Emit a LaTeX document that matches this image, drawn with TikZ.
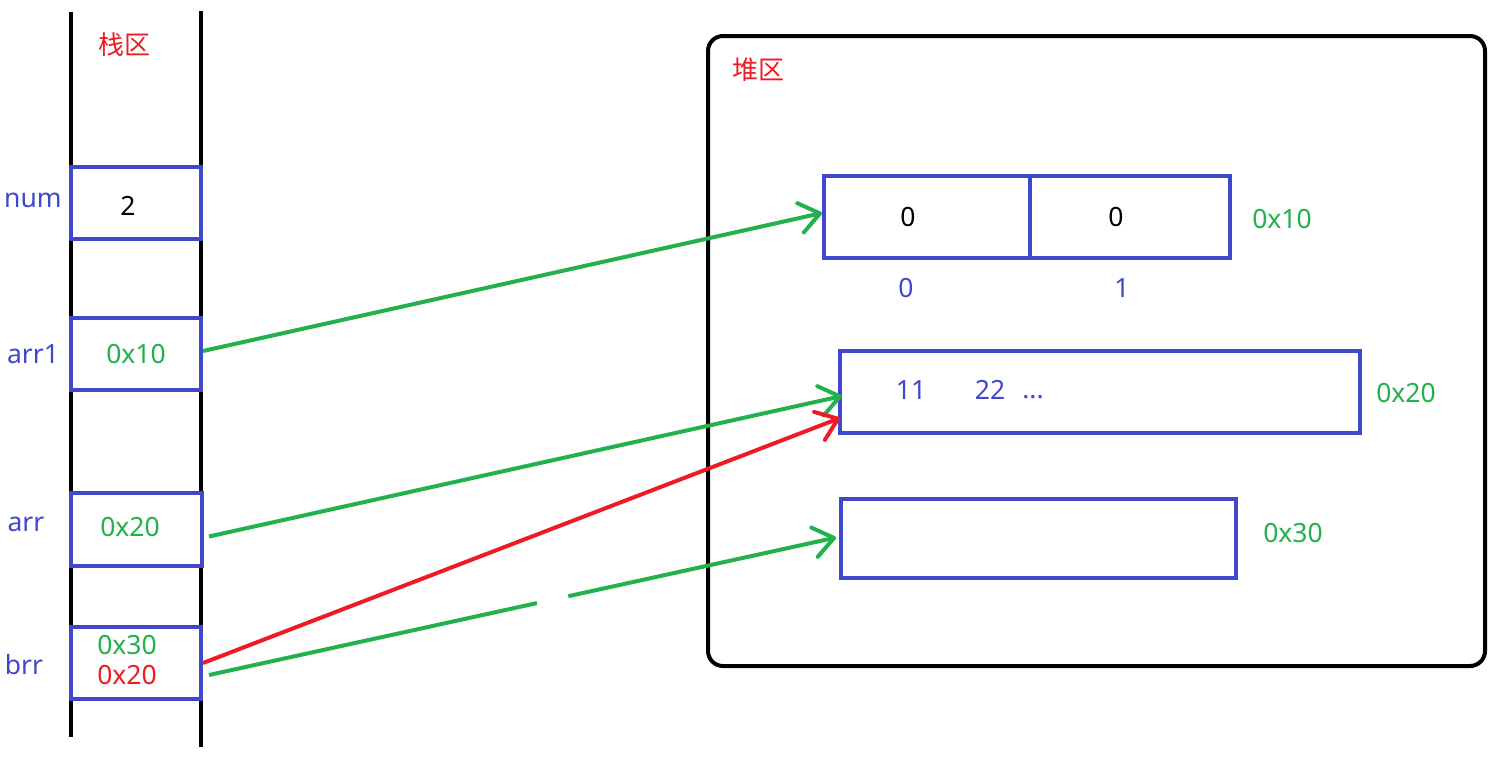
\documentclass[tikz,border=0pt]{standalone}
\usepackage{fontspec}
\setmainfont{Noto Sans}
\newfontfamily\cjk{Noto Sans CJK SC}
\usetikzlibrary{arrows.meta,calc}
\definecolor{pblue}{RGB}{63,72,204}
\definecolor{pgreen}{RGB}{34,177,76}
\definecolor{pred}{RGB}{237,28,36}
\tikzset{
  txt/.style={inner sep=0pt, font=\fontsize{26.5}{30}\selectfont},
  cjktxt/.style={inner sep=0pt, font=\cjk\fontsize{26}{30}\selectfont, text=pred},
  cell/.style={draw=pblue, line width=4pt, inner sep=0pt, outer sep=0pt},
  rail/.style={line width=4pt, black},
  ptr/.style={line width=4pt, -{Straight Barb[length=20pt,width=30pt,round]}},
  ptrline/.style={line width=4pt}
}
\begin{document}
\begin{tikzpicture}[x=1pt,y=-1pt]
\useasboundingbox (0,0) rectangle (1495,764);
% stack rails
\coordinate (lt) at (71,12);
\coordinate (lb) at (71,737);
\coordinate (rt) at (201,11);
\coordinate (rb) at (201,747);
\draw[rail] (lt) -- (lb);
\draw[rail] (rt) -- (rb);
\node[cjktxt] (stacklbl) at (124,45) {栈区};
% stack cells
\node[cell, fill=white, minimum width=130pt, minimum height=72pt] (num) at (136,203) {};
\node[cell, fill=white, minimum width=130pt, minimum height=72pt] (arr1) at (136,354) {};
\node[cell, fill=white, minimum width=131pt, minimum height=73pt] (arr) at (136.5,529.5) {};
\node[cell, fill=white, minimum width=130pt, minimum height=72pt] (brr) at (136,663) {};
\node[txt] (numv) at (128,206) {2};
\node[txt, text=pgreen] (arr1v) at (136,354) {0x10};
\node[txt, text=pgreen] (arrv) at (130,527) {0x20};
\node[txt, text=pgreen] (brrv1) at (127,645) {0x30};
\node[txt, text=pred] (brrv2) at (127,675) {0x20};
\node[txt, text=pblue] (numl) at (33,200) {num};
\node[txt, text=pblue] (arr1l) at (33,354) {arr1};
\node[txt, text=pblue] (arrl) at (26,524) {arr};
\node[txt, text=pblue] (brrl) at (24,665) {brr};
% heap
\node[draw, line width=4pt, rounded corners=15pt, minimum width=777pt, minimum height=630pt, inner sep=0pt] (heap) at (1096.5,351) {};
\node[cjktxt] (heaplbl) at (758,70) {堆区};
\node[cell, minimum width=206pt, minimum height=82pt] (h1a) at (927,217) {};
\node[cell, minimum width=200pt, minimum height=82pt] (h1b) at (1130,217) {};
\node[txt] (h1av) at (908,217) {0};
\node[txt] (h1bv) at (1116,217) {0};
\node[txt, text=pblue] (i0) at (906,288) {0};
\node[txt, text=pblue] (i1) at (1122,288) {1};
\node[txt, text=pgreen] (a10) at (1282,219) {0x10};
\node[cell, minimum width=520pt, minimum height=82pt] (h2) at (1100,392) {};
\node[txt, text=pblue] (v11) at (911,390) {11};
\node[txt, text=pblue] (v22) at (990,390) {22};
\node[txt, text=pblue] (vdots) at (1033,397) {...};
\node[txt, text=pgreen] (a20) at (1406,393) {0x20};
\node[cell, minimum width=395pt, minimum height=79pt] (h3) at (1038.5,538.5) {};
\node[txt, text=pgreen] (a30) at (1293,533) {0x30};
% pointers
\draw[ptr, pgreen] ($(arr1.east)+(2,-3)$) -- ($(h1a.west)+(-2,-4)$);
\draw[ptr, pgreen] ($(arr.east)+(7,7)$) -- ($(h2.west)+(2,4)$);
\draw[ptr, pred] ($(brr.east)+(2,0)$) -- ($(h2.south west)+(0,-15)$);
\coordinate (gs) at ($(brr.east)+(8,12)$);
\coordinate (ge) at ($(h3.west)+(-5,-1)$);
\draw[ptrline, pgreen] (gs) -- ($(gs)!0.523!(ge)$);
\draw[ptr, pgreen] ($(gs)!0.573!(ge)$) -- (ge);
\end{tikzpicture}
\end{document}
